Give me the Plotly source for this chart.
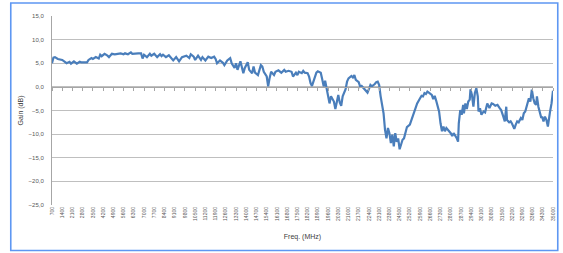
import plotly.graph_objects as go

freq_mhz = [
    700, 800, 900, 1100, 1400, 1500, 1700, 1900, 2000, 2200, 2400, 2600, 2700, 2900, 3100, 3200,
    3400, 3500, 3700, 3900, 4000, 4100, 4300, 4500, 4600, 4800, 5000, 5200, 5400, 5600, 5700, 5900,
    6100, 6200, 6400, 6600, 6800, 6900, 7000, 7200, 7400, 7500, 7700, 7900, 8100, 8200, 8300, 8500,
    8700, 8800, 9000, 9200, 9400, 9600, 9800, 9900, 10100, 10200, 10400, 10500, 10700, 10900, 11000,
    11200, 11400, 11600, 11800, 11900, 12000, 12200, 12400, 12500, 12700, 12900, 13000, 13200, 13300,
    13400, 13600, 13800, 13900, 14100, 14200, 14400, 14500, 14600, 14800, 15000, 15100, 15200, 15400,
    15500, 15600, 15700, 15900, 16000, 16200, 16400, 16600, 16700, 16900, 17100, 17200, 17400, 17500,
    17600, 17800, 17900, 18000, 18200, 18300, 18400, 18500, 18700, 18800, 18900, 19100, 19200, 19300,
    19400, 19500, 19600, 19700, 19800, 20000, 20100, 20200, 20300, 20400, 20500, 20600, 20800, 20900,
    21000, 21200, 21300, 21400, 21500, 21700, 21800, 21900, 22100, 22200, 22300, 22500, 22600, 22800,
    22900, 23000, 23100, 23200, 23400, 23500, 23600, 23700, 23800, 23900, 24000, 24100, 24200, 24300,
    24400, 24500, 24600, 24700, 24800, 24900, 25000, 25200, 25300, 25400, 25600, 25700, 25900, 26000,
    26100, 26200, 26300, 26400, 26500, 26700, 26800, 26900, 27000, 27100, 27200, 27300, 27400, 27500,
    27600, 27700, 27900, 28000, 28100, 28200, 28400, 28500, 28550, 28650, 28750, 28850, 28900, 29000,
    29100, 29200, 29300, 29350, 29450, 29550, 29650, 29750, 29850, 29900, 30000, 30100, 30250, 30350,
    30500, 30650, 30800, 30900, 31050, 31200, 31350, 31450, 31600, 31700, 31800, 31850, 32000, 32100,
    32200, 32350, 32450, 32550, 32650, 32800, 32900, 33000, 33100, 33250, 33350, 33450, 33550, 33650,
    33750, 33850, 33900, 34000, 34100, 34200, 34250, 34350, 34450, 34550, 34650, 34750, 34800, 34900,
    35000,
]

gain_db = [
    5.0, 6.2, 6.3, 5.9, 5.7, 5.5, 5.0, 5.3, 4.9, 5.4, 4.9, 5.3, 5.2, 5.2, 5.2, 5.7,
    6.1, 5.9, 6.3, 6.0, 6.8, 6.5, 7.0, 6.6, 6.3, 7.0, 6.9, 7.0, 7.1, 6.9, 7.1, 6.9,
    7.3, 7.0, 7.1, 7.1, 7.1, 6.0, 6.8, 6.3, 7.0, 6.6, 7.0, 6.3, 6.9, 6.5, 6.8, 6.3,
    6.7, 6.3, 5.6, 6.3, 5.4, 6.3, 6.4, 6.6, 6.1, 6.9, 6.4, 5.7, 6.6, 5.7, 6.3,
    5.6, 6.4, 6.1, 6.4, 5.9, 5.0, 5.6, 5.1, 4.6, 5.6, 6.1, 5.0, 4.0, 5.0,
    3.6, 5.4, 2.9, 4.0, 5.2, 3.6, 2.9, 4.3, 3.0, 2.5, 4.6, 4.3, 3.2, 2.2,
    0.1, 1.9, 3.2, 2.5, 3.2, 3.5, 3.0, 3.6, 3.2, 3.4, 3.2, 2.2, 3.0, 2.5,
    3.2, 2.9, 3.4, 3.0, 2.9, 2.2, 0.8, 0.2, 1.8, 3.0, 3.3, 3.0, 1.6, 0.1,
    1.3, -0.6, -1.7, -3.5, -2.0, -3.1, -4.7, -3.1, -1.7, -3.3, -4.0, -2.0, -0.5, 1.1,
    1.8, 2.3, 2.0, 2.5, 1.5, 1.0, 0.0, 0.2, -0.5, -0.8, -1.2, 0.4, 0.1, 0.6,
    1.0, 1.1, 0.4, -2.0, -5.6, -9.1, -10.9, -8.7, -9.8, -11.9, -10.1, -12.6, -9.8, -11.6,
    -10.9, -13.2, -11.9, -11.2, -10.9, -9.8, -8.5, -8.0, -7.0, -6.0, -4.5, -3.5, -2.4, -1.9,
    -2.0, -1.3, -1.5, -1.0, -1.2, -1.7, -2.6, -1.9, -2.9, -4.3, -5.2, -7.7, -9.4, -8.4,
    -9.4, -8.7, -9.4, -9.8, -10.4, -9.8, -10.8, -11.6, -7.7, -4.9, -5.9, -3.8, -5.6, -3.5,
    -4.7, -3.1, -2.7, -0.5, -1.7, -4.2, -1.3, -0.3, -2.0, -5.2, -4.5, -5.9, -5.2, -5.4,
    -3.5, -4.5, -3.5, -3.6, -4.0, -3.8, -4.5, -4.9, -6.3, -7.3, -4.2, -7.0, -7.5, -7.3,
    -7.8, -8.9, -8.0, -7.3, -7.5, -6.6, -7.0, -5.6, -5.2, -3.1, -2.4, -3.1, -0.6, -2.4,
    -3.5, -3.8, -2.0, -4.2, -5.6, -6.6, -6.3, -7.3, -6.3, -7.0, -8.4, -5.6, -5.2, -3.5,
    -0.8,
]

tick_vals = list(range(700, 35001, 700))
tick_text = [str(v) for v in tick_vals]
y_ticks = [-25, -20, -15, -10, -5, 0, 5, 10, 15]

FONT = "Liberation Sans, Arial, sans-serif"
GRID = "#BFBFBF"
TXT = "#595959"

fig = go.Figure()
fig.add_trace(go.Scatter(
    x=freq_mhz, y=gain_db, mode="lines",
    line=dict(color="#4A7EBB", width=2.2),
    hoverinfo="skip", showlegend=False,
))
# invisible trace to carry the zero-crossing tick axis
fig.add_trace(go.Scatter(
    x=[tick_vals[0], tick_vals[-1]], y=[0, 0], xaxis="x2", yaxis="y",
    mode="lines", line=dict(color="rgba(0,0,0,0)", width=0),
    hoverinfo="skip", showlegend=False,
))

fig.update_layout(
    width=563, height=253,
    margin=dict(l=52, r=7, t=16, b=48),
    paper_bgcolor="white", plot_bgcolor="white",
    separators=", ",
    font=dict(family=FONT, color=TXT, size=6),
    xaxis=dict(
        range=[tick_vals[0], tick_vals[-1]],
        tickmode="array", tickvals=tick_vals, ticktext=tick_text,
        tickangle=-90, tickfont=dict(size=5, color=TXT),
        showgrid=False, zeroline=False, showline=False, ticks="",
        title=dict(text="Freq. (MHz)", font=dict(size=7, color="#404040"), standoff=14),
    ),
    xaxis2=dict(
        range=[tick_vals[0], tick_vals[-1]], overlaying="x", anchor="free",
        position=0.625, tickmode="array", tickvals=tick_vals,
        showticklabels=False, ticks="outside", ticklen=3, tickcolor="#A6A6A6",
        showline=True, linecolor="#A6A6A6", linewidth=1, showgrid=False, zeroline=False,
    ),
    yaxis=dict(
        range=[-25, 15], tickmode="array", tickvals=y_ticks,
        tickformat=".1f", tickfont=dict(size=6, color=TXT),
        showgrid=True, gridcolor=GRID, gridwidth=1, zeroline=False,
        showline=True, linecolor="#A6A6A6", linewidth=1, ticks="",
        ticklabelstandoff=6,
        title=dict(text="Gain (dB)", font=dict(size=7, color="#404040"), standoff=4),
    ),
    shapes=[
        dict(type="rect", xref="paper", yref="paper",
             x0=-0.0823, x1=1.0095, y0=-0.2408, y1=1.0688,
             line=dict(color="#5E97F2", width=1.6), fillcolor="rgba(0,0,0,0)", layer="below"),
    ],
)

fig.write_html(
    "out.html",
    config={"displayModeBar": False, "staticPlot": True},
    post_script="document.body.style.margin='0';document.body.style.overflow='hidden';",
)
